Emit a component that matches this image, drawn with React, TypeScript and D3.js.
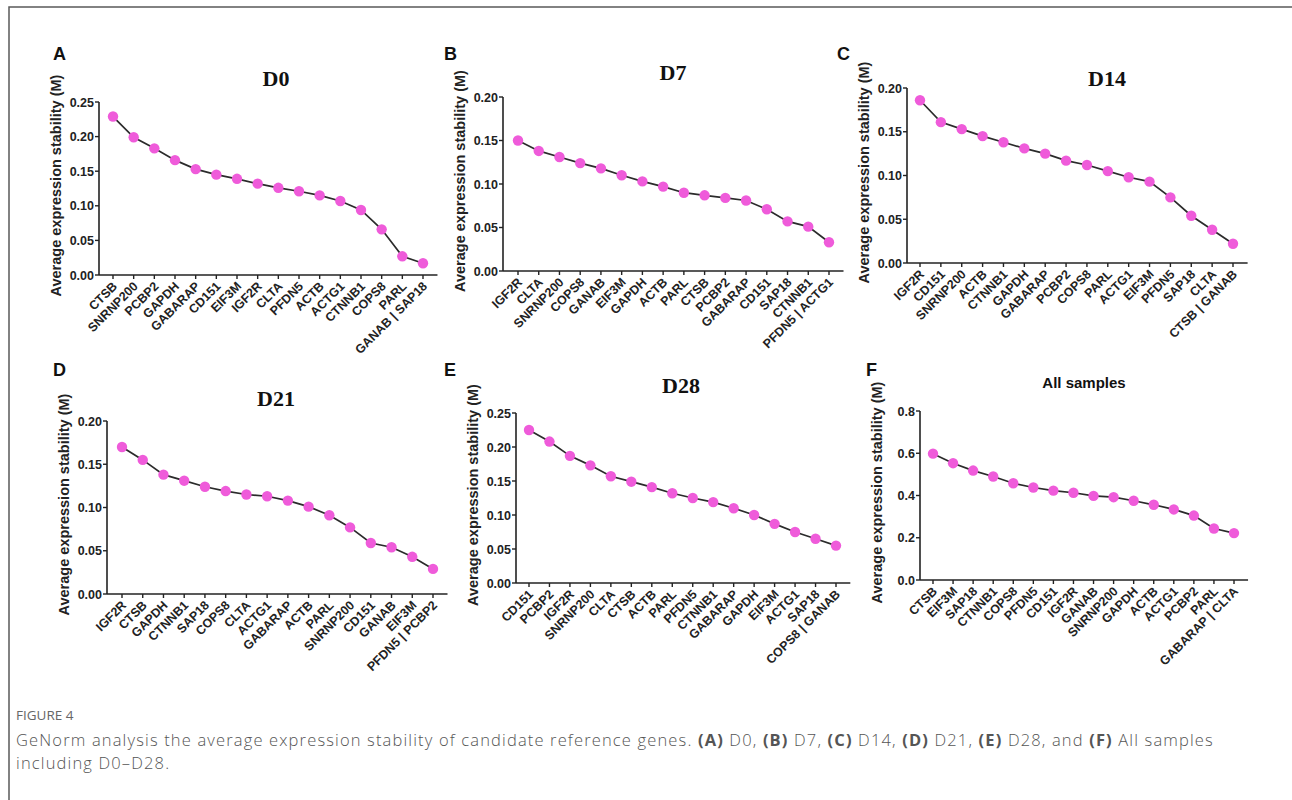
import React, { useEffect, useRef } from 'react';
import * as d3 from 'd3';

// Gene order and geNorm M values
const D0_GENES = ['CTSB', 'SNRNP200', 'PCBP2', 'GAPDH', 'GABARAP', 'CD151', 'EIF3M', 'IGF2R', 'CLTA', 'PFDN5', 'ACTB', 'ACTG1', 'CTNNB1', 'COPS8', 'PARL', 'GANAB | SAP18'];
const D0_VALUES = [0.229, 0.199, 0.183, 0.166, 0.153, 0.145, 0.139, 0.132, 0.126, 0.121, 0.115, 0.107, 0.094, 0.066, 0.027, 0.017];

const D7_GENES = ['IGF2R', 'CLTA', 'SNRNP200', 'COPS8', 'GANAB', 'EIF3M', 'GAPDH', 'ACTB', 'PARL', 'CTSB', 'PCBP2', 'GABARAP', 'CD151', 'SAP18', 'CTNNB1', 'PFDN5 | ACTG1'];
const D7_VALUES = [0.150, 0.138, 0.131, 0.124, 0.118, 0.110, 0.103, 0.097, 0.090, 0.087, 0.084, 0.081, 0.071, 0.057, 0.051, 0.033];

const D14_GENES = ['IGF2R', 'CD151', 'SNRNP200', 'ACTB', 'CTNNB1', 'GAPDH', 'GABARAP', 'PCBP2', 'COPS8', 'PARL', 'ACTG1', 'EIF3M', 'PFDN5', 'SAP18', 'CLTA', 'CTSB | GANAB'];
const D14_VALUES = [0.186, 0.161, 0.153, 0.145, 0.138, 0.131, 0.125, 0.117, 0.112, 0.105, 0.098, 0.093, 0.075, 0.054, 0.038, 0.022];

const D21_GENES = ['IGF2R', 'CTSB', 'GAPDH', 'CTNNB1', 'SAP18', 'COPS8', 'CLTA', 'ACTG1', 'GABARAP', 'ACTB', 'PARL', 'SNRNP200', 'CD151', 'GANAB', 'EIF3M', 'PFDN5 | PCBP2'];
const D21_VALUES = [0.170, 0.155, 0.138, 0.131, 0.124, 0.119, 0.115, 0.113, 0.108, 0.101, 0.091, 0.077, 0.059, 0.054, 0.043, 0.029];

const D28_GENES = ['CD151', 'PCBP2', 'IGF2R', 'SNRNP200', 'CLTA', 'CTSB', 'ACTB', 'PARL', 'PFDN5', 'CTNNB1', 'GABARAP', 'GAPDH', 'EIF3M', 'ACTG1', 'SAP18', 'COPS8 | GANAB'];
const D28_VALUES = [0.225, 0.208, 0.187, 0.173, 0.157, 0.149, 0.141, 0.132, 0.125, 0.119, 0.110, 0.100, 0.087, 0.075, 0.065, 0.055];

const ALL_GENES = ['CTSB', 'EIF3M', 'SAP18', 'CTNNB1', 'COPS8', 'PFDN5', 'CD151', 'IGF2R', 'GANAB', 'SNRNP200', 'GAPDH', 'ACTB', 'ACTG1', 'PCBP2', 'PARL', 'GABARAP | CLTA'];
const ALL_VALUES = [0.598, 0.553, 0.518, 0.490, 0.458, 0.438, 0.423, 0.413, 0.398, 0.392, 0.375, 0.356, 0.334, 0.305, 0.244, 0.222];

const TICKS_025 = [0, 0.05, 0.1, 0.15, 0.2, 0.25];
const TICKS_020 = [0, 0.05, 0.1, 0.15, 0.2];
const TICKS_08 = [0, 0.2, 0.4, 0.6, 0.8];

const PINK = '#ef5bda';
const SANS = '"Liberation Sans", Arial, sans-serif';
const SERIF = '"Liberation Serif", "Times New Roman", serif';
const CAPTION_FONT = '"Open Sans", Lato, sans-serif';

const PANELS = [
    { letter: 'A', title: 'D0', serif: true, genes: D0_GENES, values: D0_VALUES, ticks: TICKS_025, fmt: '.2f',
        axisX: 99, firstX: 113, lastX: 423, topY: 102, bottomY: 275, letterX: 53, letterY: 60, titleX: 276, titleY: 86 },
    { letter: 'B', title: 'D7', serif: true, genes: D7_GENES, values: D7_VALUES, ticks: TICKS_020, fmt: '.2f',
        axisX: 503, firstX: 518, lastX: 829, topY: 97, bottomY: 271, letterX: 444, letterY: 60, titleX: 673, titleY: 80 },
    { letter: 'C', title: 'D14', serif: true, genes: D14_GENES, values: D14_VALUES, ticks: TICKS_020, fmt: '.2f',
        axisX: 907, firstX: 920, lastX: 1233, topY: 88, bottomY: 263, letterX: 837, letterY: 60, titleX: 1107, titleY: 86 },
    { letter: 'D', title: 'D21', serif: true, genes: D21_GENES, values: D21_VALUES, ticks: TICKS_020, fmt: '.2f',
        axisX: 107, firstX: 122, lastX: 433, topY: 421, bottomY: 594, letterX: 53, letterY: 376, titleX: 276, titleY: 406 },
    { letter: 'E', title: 'D28', serif: true, genes: D28_GENES, values: D28_VALUES, ticks: TICKS_025, fmt: '.2f',
        axisX: 516, firstX: 529, lastX: 836, topY: 413, bottomY: 583, letterX: 444, letterY: 376, titleX: 681, titleY: 393 },
    { letter: 'F', title: 'All samples', serif: false, genes: ALL_GENES, values: ALL_VALUES, ticks: TICKS_08, fmt: '.1f',
        axisX: 920, firstX: 933, lastX: 1234, topY: 411, bottomY: 580, letterX: 866, letterY: 376, titleX: 1084, titleY: 388 },
];

const CAPTION_1 = 'GeNorm analysis the average expression stability of candidate reference genes.';
const CAPTION_PARTS = [['(A)', ' D0, '], ['(B)', ' D7, '], ['(C)', ' D14, '], ['(D)', ' D21, '], ['(E)', ' D28, and '], ['(F)', ' All samples']];
const CAPTION_2 = 'including D0\u2013D28.';

export default function App() {
    const svgRef = useRef<SVGSVGElement>(null);

    useEffect(() => {
        const svg = d3.select(svgRef.current);
        svg.selectAll('*').remove();

        // frame (left + top edges of the cropped figure box)
        svg.append('path')
            .attr('d', 'M9,800 V7 H1292')
            .attr('fill', 'none')
            .attr('stroke', '#5a5a5a')
            .attr('stroke-width', 1.5);

        PANELS.forEach(p => {
            const g = svg.append('g');
            const x = d3.scalePoint<string>().domain(p.genes).range([p.firstX, p.lastX]);
            const y = d3.scaleLinear().domain([0, p.ticks[p.ticks.length - 1]]).range([p.bottomY, p.topY]);
            const fmt = d3.format(p.fmt);

            // panel letter
            g.append('text')
                .attr('x', p.letterX).attr('y', p.letterY)
                .attr('font-family', SANS).attr('font-weight', 700).attr('font-size', 18)
                .attr('fill', '#111')
                .text(p.letter);

            // title
            g.append('text')
                .attr('x', p.titleX).attr('y', p.titleY)
                .attr('text-anchor', 'middle')
                .attr('font-family', p.serif ? SERIF : SANS)
                .attr('font-weight', 700)
                .attr('font-size', p.serif ? 22 : 15)
                .attr('fill', '#111')
                .text(p.title);

            // y axis
            g.append('line')
                .attr('x1', p.axisX).attr('x2', p.axisX)
                .attr('y1', y.range()[1]).attr('y2', y.range()[0])
                .attr('stroke', '#222').attr('stroke-width', 1.6);
            p.ticks.forEach(t => {
                g.append('line')
                    .attr('x1', p.axisX - 4).attr('x2', p.axisX)
                    .attr('y1', y(t)).attr('y2', y(t))
                    .attr('stroke', '#222').attr('stroke-width', 1.4);
                g.append('text')
                    .attr('x', p.axisX - 5).attr('y', y(t))
                    .attr('dy', '0.36em')
                    .attr('text-anchor', 'end')
                    .attr('font-family', SANS).attr('font-weight', 700).attr('font-size', 12.5)
                    .attr('fill', '#222')
                    .text(fmt(t));
            });

            // y axis title
            const midY = (y.range()[0] + y.range()[1]) / 2;
            g.append('text')
                .attr('transform', `translate(${p.axisX - 38},${midY - 3}) rotate(-90)`)
                .attr('text-anchor', 'middle')
                .attr('font-family', SANS).attr('font-weight', 700).attr('font-size', 14.5)
                .attr('fill', '#222')
                .text('Average expression stability (M)');

            // x axis
            const step = x.step();
            g.append('line')
                .attr('x1', p.axisX).attr('x2', p.lastX + step * 0.7)
                .attr('y1', p.bottomY).attr('y2', p.bottomY)
                .attr('stroke', '#222').attr('stroke-width', 1.6);
            p.genes.forEach(gene => {
                const gx = x(gene) as number;
                g.append('line')
                    .attr('x1', gx).attr('x2', gx)
                    .attr('y1', p.bottomY).attr('y2', p.bottomY + 4)
                    .attr('stroke', '#222').attr('stroke-width', 1.4);
                g.append('text')
                    .attr('transform', `translate(${gx + 5},${p.bottomY + 12}) rotate(-45)`)
                    .attr('text-anchor', 'end')
                    .attr('font-family', SANS).attr('font-weight', 700).attr('font-size', 12.5)
                    .attr('fill', '#222')
                    .text(gene);
            });

            // line + markers
            const pts = p.genes.map((gene, i) => [x(gene) as number, y(p.values[i])] as [number, number]);
            g.append('path')
                .attr('d', d3.line()(pts))
                .attr('fill', 'none')
                .attr('stroke', '#2b2b2b')
                .attr('stroke-width', 1.7);
            g.selectAll('circle.pt')
                .data(pts)
                .join('circle')
                .attr('class', 'pt')
                .attr('cx', d => d[0]).attr('cy', d => d[1])
                .attr('r', 5.2)
                .attr('fill', PINK);
        });

        // caption
        svg.append('text')
            .attr('x', 16).attr('y', 720)
            .attr('font-family', CAPTION_FONT)
            .attr('font-size', 13.5).attr('fill', '#666')
            .text('FIGURE 4');

        const cap = svg.append('text')
            .attr('x', 16).attr('y', 746)
            .attr('font-family', CAPTION_FONT)
            .attr('font-weight', 300)
            .attr('font-size', 16.5)
            .attr('letter-spacing', 1.15)
            .attr('fill', '#555');
        cap.append('tspan').text(CAPTION_1 + ' ');
        CAPTION_PARTS.forEach(([b, rest]) => {
            cap.append('tspan').attr('font-weight', 700).text(b);
            cap.append('tspan').text(rest);
        });

        svg.append('text')
            .attr('x', 16).attr('y', 769)
            .attr('font-family', CAPTION_FONT)
            .attr('font-weight', 300)
            .attr('font-size', 16.5)
            .attr('letter-spacing', 1.15)
            .attr('fill', '#555')
            .text(CAPTION_2);
    }, []);

    return (
        <>
            <style>{'body{margin:0;background:#fff}'}</style>
            <svg ref={svgRef} width={1292} height={800} style={{ display: 'block' }} />
        </>
    );
}
